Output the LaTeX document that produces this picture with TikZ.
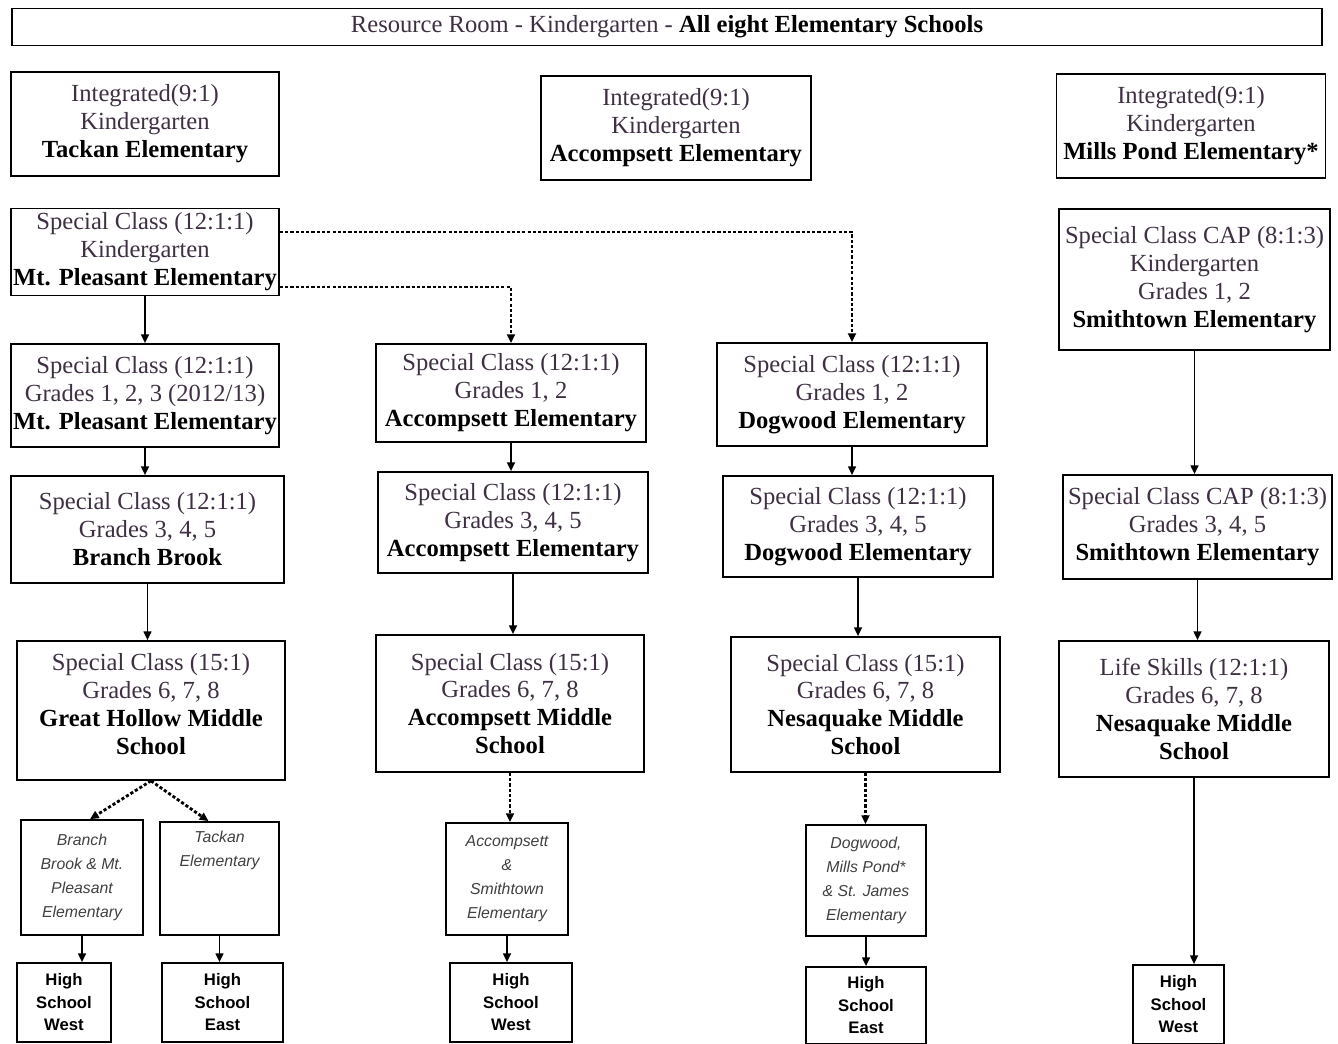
\documentclass[tikz,border=0pt]{standalone}
\usepackage{fontspec}
\setmainfont{Liberation Serif}
\setsansfont{Liberation Sans}
\usetikzlibrary{arrows.meta}
\definecolor{txtgray}{RGB}{62,48,66}
\newcommand{\schoolname}[1]{\textcolor{black}{\bfseries #1}}

\begin{document}
\begin{tikzpicture}[x=0.02cm,y=-0.02cm,
	sz/.style 2 args={minimum width=#1cm,minimum height=#2cm},
	box/.style={draw,line width=1pt,inner sep=0pt,align=center,text=txtgray,font=\fontsize{14}{15.9}\selectfont},
	feeder/.style={draw,line width=1pt,inner sep=0pt,align=center,text=black!75,font=\fontsize{9}{13.6}\selectfont\sffamily\itshape},
	hs/.style={draw,line width=1pt,inner sep=0pt,align=center,font=\fontsize{9.5}{12.8}\selectfont\sffamily\bfseries},
	arr/.style={line width=0.9pt,-{Triangle[length=5pt,width=4.5pt]}},
	dotarr/.style={arr,line width=1.6pt,dash pattern=on 1.8pt off 1.2pt}]
		\useasboundingbox (0,0) rectangle (1338,1044);
		
		%banner
		\node[box,sz={26.2}{0.74}] (banner) at (667,27) {Resource Room - Kindergarten - \schoolname{All eight Elementary Schools}};
		
		%integrated kindergarten
		\node[box,sz={5.36}{2.08}] (intT) at (145,124) {Integrated(9:1)\\Kindergarten\\\schoolname{Tackan Elementary}};
		\node[box,sz={5.4}{2.08}] (intA) at (676,128) {Integrated(9:1)\\Kindergarten\\\schoolname{Accompsett Elementary}};
		\node[box,sz={5.38}{2.08}] (intM) at (1191,126) {Integrated(9:1)\\Kindergarten\\\schoolname{Mills Pond Elementary*}};
		
		%kindergarten special classes
		\node[box,sz={5.36}{1.74}] (kMtP) at (145,252) {Special Class (12:1:1)\\Kindergarten\\\schoolname{Mt. Pleasant Elementary}};
		\node[box,sz={5.42}{2.82}] (kCap) at (1194.5,279.5) {Special Class CAP (8:1:3)\\Kindergarten\\Grades 1, 2\\\schoolname{Smithtown Elementary}};
		
		%grades 1-3
		\node[box,sz={5.36}{2.06}] (g123) at (145,395.5) {Special Class (12:1:1)\\Grades 1, 2, 3 (2012/13)\\\schoolname{Mt. Pleasant Elementary}};
		\node[box,sz={5.4}{1.96}] (g12A) at (511,393) {Special Class (12:1:1)\\Grades 1, 2\\\schoolname{Accompsett Elementary}};
		\node[box,sz={5.4}{2.06}] (g12D) at (852,394.5) {Special Class (12:1:1)\\Grades 1, 2\\\schoolname{Dogwood Elementary}};
		
		%grades 3-5
		\node[box,sz={5.46}{2.14}] (g345B) at (147.5,529.5) {Special Class (12:1:1)\\Grades 3, 4, 5\\\schoolname{Branch Brook}};
		\node[box,sz={5.4}{2.02}] (g345A) at (513,522.5) {Special Class (12:1:1)\\Grades 3, 4, 5\\\schoolname{Accompsett Elementary}};
		\node[box,sz={5.4}{2.02}] (g345D) at (858,526.5) {Special Class (12:1:1)\\Grades 3, 4, 5\\\schoolname{Dogwood Elementary}};
		\node[box,sz={5.38}{2.08}] (g345S) at (1197.5,527) {Special Class CAP (8:1:3)\\Grades 3, 4, 5\\\schoolname{Smithtown Elementary}};
		
		%middle schools
		\node[box,sz={5.36}{2.78}] (mGH) at (151,710.5) {Special Class (15:1)\\Grades 6, 7, 8\\\schoolname{Great Hollow Middle}\\\schoolname{School}\\[-8pt]\mbox{}};
		\node[box,sz={5.36}{2.74}] (mA) at (510,703.5) {Special Class (15:1)\\Grades 6, 7, 8\\\schoolname{Accompsett Middle}\\\schoolname{School}};
		\node[box,sz={5.38}{2.7}] (mN) at (865.5,704.5) {Special Class (15:1)\\Grades 6, 7, 8\\\schoolname{Nesaquake Middle}\\\schoolname{School}};
		\node[box,sz={5.4}{2.72}] (mLS) at (1194,709) {Life Skills (12:1:1)\\Grades 6, 7, 8\\\schoolname{Nesaquake Middle}\\\schoolname{School}};
		
		%feeder elementaries
		\node[feeder,sz={2.44}{2.3}] (eBB) at (82,877.5) {Branch\\Brook \& Mt.\\Pleasant\\Elementary};
		\node[feeder,sz={2.38}{2.26}] (eTk) at (219.5,878.5) {Tackan\\Elementary\\[20pt]\mbox{}};
		\node[feeder,sz={2.44}{2.24}] (eAS) at (507,879) {Accompsett\\\&\\Smithtown\\Elementary};
		\node[feeder,sz={2.4}{2.22}] (eDM) at (866,880.5) {Dogwood,\\Mills Pond*\\\& St. James\\Elementary};
		
		%high schools
		\node[hs,sz={1.88}{1.58}] (hW1) at (64,1002.5) {High\\School\\West};
		\node[hs,sz={2.42}{1.58}] (hE1) at (222.5,1002.5) {High\\School\\East};
		\node[hs,sz={2.44}{1.58}] (hW2) at (511,1002.5) {High\\School\\West};
		\node[hs,sz={2.4}{1.54}] (hE2) at (866,1005.5) {High\\School\\East};
		\node[hs,sz={1.82}{1.58}] (hW3) at (1178.5,1004.5) {High\\School\\West};
		
		%solid links
		\foreach \a/\b in {kMtP/g123, g123/g345B, g345B/mGH, eBB/hW1, eTk/hE1,
			g12A/g345A, g345A/mA, eAS/hW2,
			g12D/g345D, g345D/mN, eDM/hE2,
			kCap/g345S, g345S/mLS, mLS/hW3}{
			\draw[arr] (\a.south) -- (\a.south |- \b.north);
		}
		
		%dotted links
		\draw[dotarr] ([yshift=0.4cm]kMtP.east) -| (g12D.north);
		\draw[dotarr] ([yshift=-0.7cm]kMtP.east) -| (g12A.north);
		\draw[dotarr] (mGH.south) -- ([xshift=0.16cm]eBB.north);
		\draw[dotarr] (mGH.south) -- ([xshift=-0.22cm]eTk.north);
		\draw[dotarr] (mA.south) -- (mA.south |- eAS.north);
		\draw[dotarr] (mN.south) -- (mN.south |- eDM.north);
\end{tikzpicture}
\end{document}
